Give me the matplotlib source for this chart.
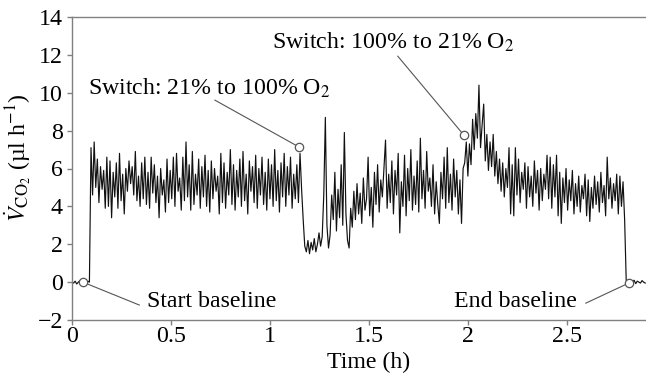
import numpy as np
import matplotlib
matplotlib.use('Agg')
import matplotlib.pyplot as plt

# sampling interval of the CO2 trace (h)
dt = 0.008

# VCO2 readings (ul h-1), one list per phase of the run
baseline_start = [0.0, -0.05, 0.05, -0.1, 0.0, 0.08, -0.05, 0.0, 0.1, -0.08, 0.05, 0.0]

normoxia_1 = [7.1, 4.6, 7.4, 5.0, 6.5, 4.2, 6.1, 4.9, 5.9, 3.9, 6.6, 4.0, 6.4, 3.4, 5.8,
              4.5, 6.3, 3.9, 6.8, 4.3, 5.7, 3.6, 6.0, 4.8, 6.4, 5.2, 6.1, 4.6, 6.9, 4.3,
              5.6, 4.0, 6.3, 4.4, 6.6, 4.1, 5.8, 3.9, 6.6, 4.7, 6.2, 4.2, 5.6, 3.4, 6.0,
              4.6, 5.4, 3.7, 6.5, 4.2, 5.9, 4.4, 6.6, 4.0, 6.8, 4.8, 5.5, 3.8, 6.6, 4.3,
              7.4, 4.5, 6.2, 3.8, 6.9, 4.1, 5.7, 4.6, 6.5, 3.9, 6.1, 4.5, 6.7, 4.0, 5.9,
              3.7, 6.4, 4.4, 6.0, 4.8, 5.6, 3.6, 6.8, 4.2, 6.3, 3.9, 5.8, 4.6, 7.0, 4.1,
              6.2, 3.8, 5.9, 4.5, 6.5, 4.0, 6.9, 4.3, 5.7, 3.6, 6.4, 4.8, 6.1, 4.2, 6.7,
              3.9, 6.0, 4.6, 6.6, 4.1, 5.8, 3.8, 6.5, 4.4, 6.2, 4.0, 7.0, 4.3, 5.9, 3.7,
              6.3, 4.5, 6.8, 4.0, 6.1, 4.6, 6.6, 3.9, 5.7, 4.4, 6.2, 4.2, 6.8, 4.9, 3.3]

hyperoxia = [1.9, 1.6, 2.2, 1.5, 2.1, 1.7, 2.3, 1.6, 2.0, 2.6, 1.9,
             2.4, 4.6, 8.7, 3.0, 1.8, 2.5, 4.6, 3.3, 5.8, 2.7,
             4.9, 3.4, 6.2, 3.0, 7.9, 3.6, 2.2, 1.8, 3.9, 2.9,
             4.8, 3.3, 5.2, 3.6, 4.7, 3.1, 5.5, 3.8, 4.4, 6.6,
             3.5, 5.0, 2.9, 5.8, 4.1, 6.2, 3.7, 5.4, 4.5, 6.0,
             7.5, 3.9, 5.7, 4.2, 6.4, 3.6, 5.9, 4.6, 6.8, 2.6,
             5.3, 4.0, 6.7, 3.5, 6.0, 4.3, 7.0, 3.8, 5.6, 4.1,
             6.4, 3.7, 7.6, 4.4, 5.9, 3.9, 6.9, 4.8, 5.5, 4.0,
             6.2, 3.6, 5.3, 4.1, 3.1, 5.8, 4.4, 6.6, 3.9, 7.1,
             4.2, 5.7, 3.8, 6.5, 4.5, 5.9, 3.6, 5.4, 3.1, 6.0]

normoxia_2 = [6.3, 7.4, 5.6, 7.3, 6.2, 8.6, 7.0, 8.9, 7.6, 10.4,
              7.1, 8.3, 9.4, 6.4, 7.8, 5.9, 7.4, 6.1, 7.8, 5.6,
              6.9, 5.2, 6.5, 4.8, 6.3, 4.5, 6.0, 5.0, 7.1, 3.6,
              6.2, 3.5, 7.1, 4.6, 6.5, 4.2, 5.8, 4.9, 6.3, 3.9,
              6.1, 4.5, 5.6, 4.0, 6.4, 4.7, 5.9, 3.8, 6.0, 4.3,
              5.7, 4.9, 6.7, 4.4, 6.6, 3.9, 6.2, 4.5, 6.7, 3.5,
              5.8, 3.1, 5.5, 4.2, 6.0, 3.8, 5.4, 4.3, 5.9, 3.6,
              5.2, 4.0, 5.6, 3.7, 5.1, 4.4, 5.7, 3.5, 5.4, 3.2,
              5.0, 3.9, 5.6, 4.1, 5.3, 3.7, 5.8, 4.2, 5.1, 3.5,
              6.6, 4.4, 5.5, 3.9, 5.2, 4.3, 5.7, 3.6, 5.6, 4.0,
              5.3, 3.3]

baseline_end = [0.1, -0.1, 0.05, -0.05, 0.0, 0.1, -0.08, 0.05, 0.0, -0.05, 0.08, 0.0, -0.05]

x_ticks = [0, 0.5, 1, 1.5, 2, 2.5]
x_tick_labels = ['0', '0.5', '1', '1.5', '2', '2.5']
y_ticks = [-2, 0, 2, 4, 6, 8, 10, 12, 14]

note_labels = ['Start baseline', 'Switch: 21% to 100% O$_2$',
               'Switch: 100% to 21% O$_2$', 'End baseline']
note_points = [(0.055, 0.0), (1.146, 7.14), (1.98, 7.76), (2.813, -0.05)]

plt.rcParams['font.family'] = ['Liberation Serif', 'DejaVu Serif']
plt.rcParams['mathtext.fontset'] = 'stix'
plt.rcParams['font.size'] = 17.2

vco2 = np.concatenate([baseline_start, normoxia_1, hyperoxia, normoxia_2, baseline_end])
t = np.arange(len(vco2)) * dt

fig = plt.figure(figsize=(6.46, 3.81), dpi=100)
ax = fig.add_axes([72/646, 1 - 320/381, (646 - 72)/646, (320 - 17)/381])

ax.plot(t, vco2, color='#111111', lw=0.85)

# annotations: line from the text to an open circle on the trace
line_starts = [(0.34, -1.21), (0.722, 9.61), (1.646, 11.93), (2.596, -1.11)]
text_pos = [(0.38, -1.0, 'left'), (0.081, 10.24, 'left'), (1.01, 12.67, 'left'), (2.55, -1.0, 'right')]
for lab, pt, st, tp in zip(note_labels, note_points, line_starts, text_pos):
    ax.plot([st[0], pt[0]], [st[1], pt[1]], color='#555555', lw=0.8)
    ax.plot(pt[0], pt[1], 'o', ms=6, mfc='white', mec='#555555', mew=0.9, zorder=5)
    ax.text(tp[0], tp[1], lab, ha=tp[2], va='center')

ax.set_xlim(0, 2.9)
ax.set_ylim(-2, 14)
ax.set_xticks(x_ticks)
ax.set_xticklabels(x_tick_labels)
ax.set_yticks(y_ticks)

for side in ['left', 'bottom', 'top']:
    ax.spines[side].set_color('#808080')
    ax.spines[side].set_linewidth(1.0)
ax.spines['right'].set_visible(False)
ax.tick_params(direction='out', length=3.5, width=1.0, color='#808080')
ax.tick_params(axis='x', pad=1)
ax.tick_params(axis='y', pad=3)

ax.set_xlabel('Time (h)')
ax.xaxis.set_label_coords(0.516, -0.105)
ax.set_ylabel(r'$\dot{V}_{\mathrm{CO_2}}$ (µl h$^{-1}$)')
ax.yaxis.set_label_coords(-0.068, 0.536)

fig.savefig('out.png', dpi=100)
